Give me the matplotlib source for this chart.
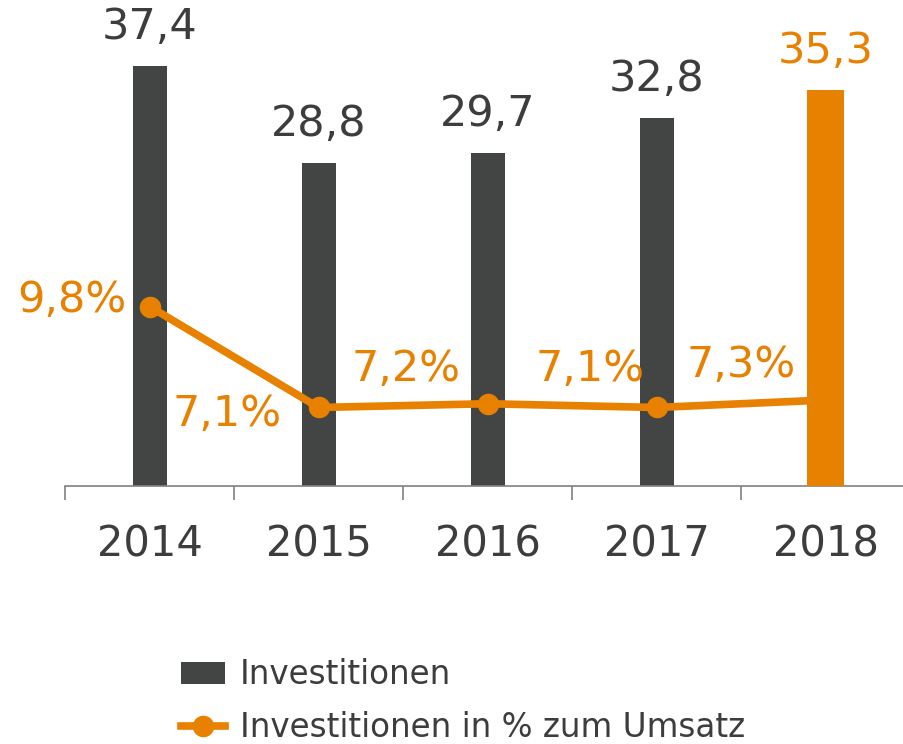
import matplotlib.pyplot as plt
from matplotlib.patches import Patch
from matplotlib.lines import Line2D

years = ['2014', '2015', '2016', '2017', '2018']
invest = [37.4, 28.8, 29.7, 32.8, 35.3]
invest_labels = ['37,4', '28,8', '29,7', '32,8', '35,3']
pct = [9.8, 7.1, 7.2, 7.1, 7.3]
pct_labels = ['9,8%', '7,1%', '7,2%', '7,1%', '7,3%']

dark = '#434544'
orange = '#E88000'
text_dark = '#3d3d3d'

plt.rcParams['font.family'] = 'DejaVu Sans'

fig = plt.figure(figsize=(9.04, 7.44), dpi=100)
ax = fig.add_axes([0.072, 0.3468, 0.935, 0.6532])
x = list(range(len(years)))

# dark bars (all but the last year)
ax.bar(x[:-1], invest[:-1], width=0.2, color=dark, zorder=2)
ax.set_ylim(0, 43.3)
ax.set_xlim(-0.5, 4.5)

# line on secondary axis
ax2 = ax.twinx()
ax2.plot(x, pct, color=orange, lw=5.5, marker='o', markersize=14.5, zorder=3)
ax2.set_ylim(5, 18)

# last bar on its own layer so it covers the line
ax3 = ax.twinx()
ax3.bar(x[-1], invest[-1], width=0.22, color=orange)
ax3.set_ylim(0, 43.3)

for a in (ax, ax2, ax3):
    for s in ('top', 'right', 'left'):
        a.spines[s].set_visible(False)
    a.set_yticks([])
ax2.spines['bottom'].set_visible(False)
ax3.spines['bottom'].set_visible(False)
ax2.set_xticks([])
ax3.set_xticks([])

ax.spines['bottom'].set_color('#808080')
ax.spines['bottom'].set_linewidth(1.2)
ax.set_xticks(x)
ax.set_xticklabels(years, fontsize=30, color=text_dark)
ax.set_xticks([i - 0.5 for i in range(len(years) + 1)], minor=True)
ax.tick_params(axis='x', which='major', length=0, pad=27)
ax.tick_params(axis='x', which='minor', length=10, width=1.2, color='#808080')

# value labels above bars
for i, (v, lab) in enumerate(zip(invest, invest_labels)):
    col = orange if i == len(invest) - 1 else text_dark
    tgt = ax3 if i == len(invest) - 1 else ax
    tgt.annotate(lab, (i, v), xytext=(0, 13), textcoords='offset points',
                 ha='center', va='bottom', fontsize=31, color=col)

# percent labels
offsets = [(-56, 5), (-66, -5), (-59, 25), (-48, 28), (-61, 25)]
for i, (v, lab) in enumerate(zip(pct, pct_labels)):
    ax3.annotate(lab, (i, (v - 5) / 13 * 43.3), xytext=offsets[i], textcoords='offset points',
                 ha='center', va='center', fontsize=31, color=orange)

handles = [Patch(facecolor=dark, edgecolor='none'),
           Line2D([], [], color=orange, lw=5.5, marker='o', markersize=14.5)]
fig.legend(handles, ['Investitionen', 'Investitionen in % zum Umsatz'],
           loc='upper left', bbox_to_anchor=(0.2, 0.115), frameon=False,
           fontsize=23.5, labelcolor=text_dark, handlelength=1.35,
           handletextpad=0.45, labelspacing=0.6, borderaxespad=0, borderpad=0)

fig.savefig('out.png', dpi=100)
